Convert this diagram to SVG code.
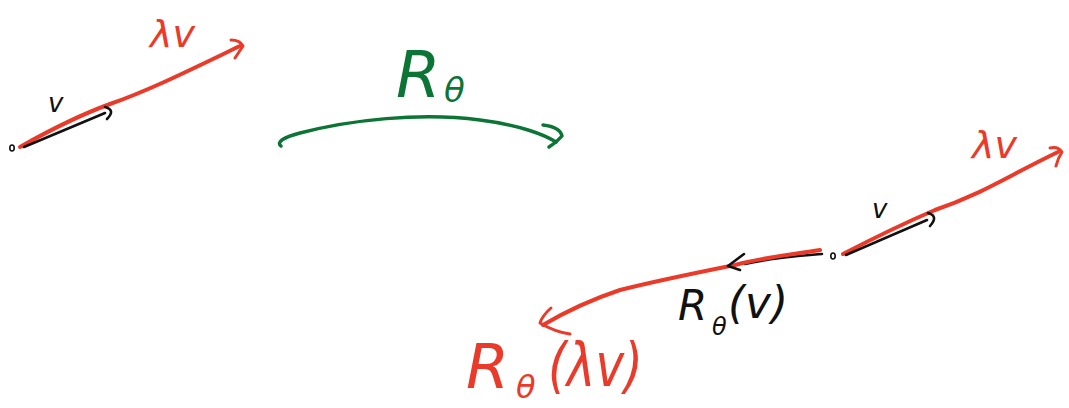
<svg xmlns="http://www.w3.org/2000/svg" width="1069" height="408" viewBox="0 0 1069 408">
<style>
.red{fill:none;stroke:#ea3a2a;stroke-width:4;stroke-linecap:round;stroke-linejoin:round}
.redt{fill:none;stroke:#ea3a2a;stroke-width:3;stroke-linecap:round;stroke-linejoin:round}
.blk{fill:none;stroke:#111;stroke-width:2.6;stroke-linecap:round;stroke-linejoin:round}
.grn{fill:none;stroke:#0c7536;stroke-width:3.5;stroke-linecap:round;stroke-linejoin:round}
.t{font-family:"DejaVu Sans","Liberation Sans",sans-serif;font-style:italic}
.tr{fill:#ea3a2a}.tb{fill:#111}.tg{fill:#0c7536}
</style>
<rect width="1069" height="408" fill="#fff"/>
<g id="original">
  <ellipse cx="12" cy="148" rx="2.2" ry="3" fill="none" stroke="#111" stroke-width="1.6"/>
  <path class="red" d="M20,147 C50,130 80,115 110,104 C150,90 190,70 240,46"/>
  <path class="redt" d="M231,40 Q240,40 243,46 Q239,52 235,58"/>
  <path class="blk" d="M24,147 L105,113"/>
  <path class="blk" d="M105,107 Q116,110 107,119"/>
  <text class="t tb" x="48" y="112" font-size="26">v</text>
  <text class="t tr" x="150" y="47" font-size="38">λv</text>
</g>
<g id="rotation">
  <path class="grn" d="M281,146 Q274,140 300,133 C350,120 420,112 480,120 C520,125 545,135 556,142"/>
  <path class="grn" d="M543,125 Q560,127 562,136 Q557,142 549,147"/>
  <text class="t tg" x="396" y="97" font-size="64">R</text>
  <text class="t tg" x="444" y="102" font-size="34">θ</text>
</g>
<g id="scaled">
  <ellipse cx="833" cy="256" rx="2.2" ry="3" fill="none" stroke="#111" stroke-width="1.6"/>
  <path class="red" d="M843,254 C870,240 900,225 935,210 C980,195 1010,175 1058,152"/>
  <path class="redt" d="M1050,148 Q1058,146 1062,152 Q1058,158 1056,166"/>
  <path class="blk" d="M846,255 L927,220"/>
  <path class="blk" d="M928,213 Q939,216 930,226"/>
  <text class="t tb" x="872" y="218" font-size="26">v</text>
  <text class="t tr" x="972" y="158" font-size="38">λv</text>
</g>
<g id="rotated">
  <path class="blk" d="M822,254 C800,256 770,258 745,264"/>
  <path class="red" d="M820,250 C790,255 760,258 735,265 C700,272 660,280 620,290 C590,300 560,315 543,325"/>
  <path class="blk" d="M744,254 L728,266 L740,270"/>
  <path class="redt" d="M551,308 Q542,316 540,323 Q555,332 570,334"/>
  <text class="t tb" x="678" y="320" font-size="42">R</text>
  <text class="t tb" x="712" y="335" font-size="24">θ</text>
  <text class="t tb" x="728" y="318" font-size="44" textLength="60" lengthAdjust="spacingAndGlyphs">(v)</text>
  <text class="t tr" x="466" y="388" font-size="62">R</text>
  <text class="t tr" x="516" y="398" font-size="32">θ</text>
  <text class="t tr" x="548" y="386" font-size="60" textLength="95" lengthAdjust="spacingAndGlyphs">(λv)</text>
</g>
</svg>
